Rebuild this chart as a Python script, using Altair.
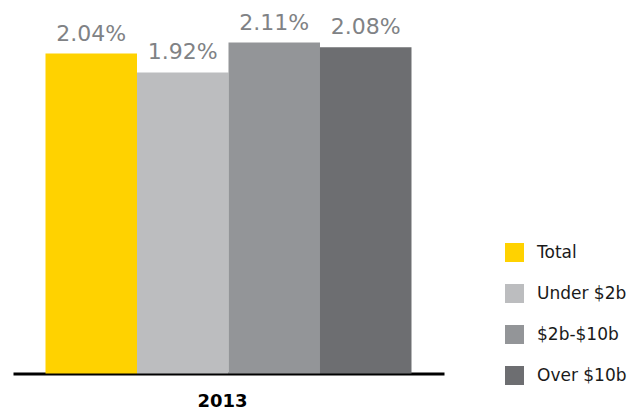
import altair as alt
import pandas as pd

years = ["2013", "2013", "2013", "2013"]
series = ["Total", "Under $2b", "$2b-$10b", "Over $10b"]
values = [2.04, 1.92, 2.11, 2.08]
colors = ["#FFD200", "#BCBDBF", "#939598", "#6D6E71"]

df = pd.DataFrame({"year": years, "series": series, "value": values})

FONT = "DejaVu Sans"

base = alt.Chart(df).encode(
    x=alt.X(
        "year:N",
        title=None,
        scale=alt.Scale(paddingInner=0, paddingOuter=0.0888),
        axis=alt.Axis(
            labelAngle=0, ticks=False, grid=False,
            domainColor="black", domainWidth=3,
            labelFont=FONT, labelFontWeight="bold", labelFontSize=18,
            labelColor="black", labelPadding=19, labelOffset=-6,
        ),
    ),
    xOffset=alt.XOffset("series:N", sort=series,
                        scale=alt.Scale(paddingInner=0, paddingOuter=0)),
    y=alt.Y("value:Q", scale=alt.Scale(domain=[0, 2.2]), axis=None),
)

bars = base.mark_bar().encode(
    color=alt.Color(
        "series:N", sort=series,
        scale=alt.Scale(domain=series, range=colors),
        legend=alt.Legend(
            title=None, orient="none", legendX=492, legendY=214.5,
            symbolType="square", symbolSize=361, symbolStrokeWidth=0,
            labelFont=FONT, labelFontSize=17, labelColor="#1a1a1a",
            labelOffset=13, rowPadding=22, padding=0,
        ),
    )
)

text = base.transform_calculate(
    label="format(datum.value, '.2f') + '%'"
).mark_text(
    font=FONT, fontSize=22, color="#808285", baseline="alphabetic",
    align="center", dy=-13,
).encode(text="label:N")

chart = (bars + text).properties(
    width=431, height=345,
    autosize=alt.AutoSizeParams(type="none"),
    padding={"left": 5, "top": 20.5, "right": 184, "bottom": 40},
).configure_view(stroke=None)

chart.save("out.html", embed_options={"renderer": "svg", "actions": False})
